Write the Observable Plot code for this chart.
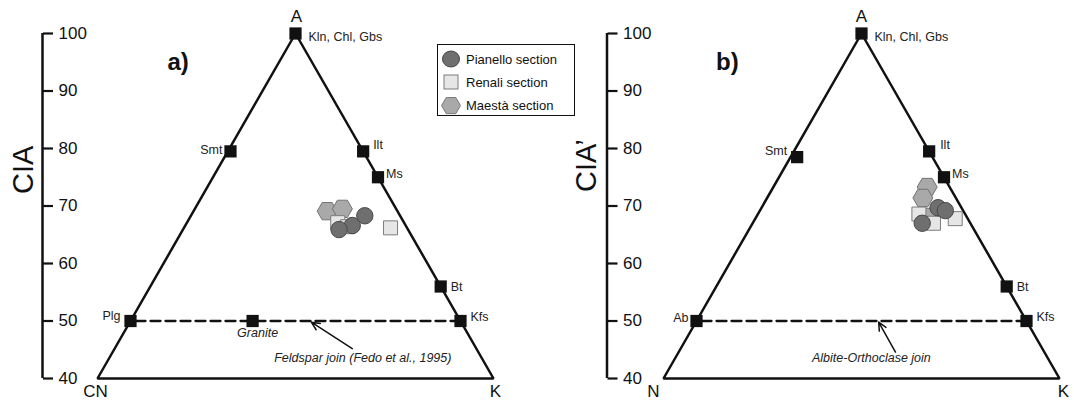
<!DOCTYPE html>
<html>
<head>
<meta charset="utf-8">
<script src="https://cdn.jsdelivr.net/npm/d3@7"></script>
<script src="https://cdn.jsdelivr.net/npm/@observablehq/plot@0.6"></script>
<style>
  html, body { margin: 0; padding: 0; background: #fff; }
  #wrap { position: relative; width: 1074px; height: 407px; overflow: hidden; font-family: "Liberation Sans", Arial, sans-serif; }
  .panel { position: absolute; top: 0; }
  .panel svg { overflow: visible; }
  #legend { position: absolute; left: 437px; top: 44px; width: 138px; height: 72px; border: 1.5px solid #111; background: #fff; box-sizing: border-box; }
  #legend .row { position: absolute; left: 0; height: 20px; display: flex; align-items: center; font-size: 13px; color: #111; }
  #legend svg { display: block; margin-left: 3px; margin-right: 5px; }
</style>
</head>
<body>
<div id="wrap"></div>
<script>
// ---------- data ----------
const yTicks = [40, 50, 60, 70, 80, 90, 100];
const seriesNames = ["Pianello section", "Renali section", "Maestà section"];
const panelLetters = ["a)", "b)"];
const yLabels = ["CIA", "CIA\u2019"];

// triangle vertices (CIA = A %, K %)
const vertexNamesA = ["A", "CN", "K"];
const vertexNamesB = ["A", "N", "K"];
const vertexCIA = [100, 40, 40];
const vertexK = [0, 0, 60];

// reference minerals, panel a
const mineralNamesA = ["Kln, Chl, Gbs", "Smt", "Ilt", "Ms", "Bt", "Kfs", "Plg", "Granite"];
const mineralCIA_A = [100, 79.5, 79.5, 75, 56, 50, 50, 50];
const mineralK_A = [0, 0.4, 20.5, 25, 44, 50, 0, 18.5];
// reference minerals, panel b
const mineralNamesB = ["Kln, Chl, Gbs", "Smt", "Ilt", "Ms", "Bt", "Kfs", "Ab"];
const mineralCIA_B = [100, 78.5, 79.5, 75, 56, 50, 50];
const mineralK_B = [0, 1, 20.5, 25, 44, 50, 0];

// samples, panel a
const pianelloCIA_A = [68.3, 66.6, 65.9];
const pianelloK_A = [26.35, 25.3, 23.65];
const renaliCIA_A = [66.2, 67.1, 66.4];
const renaliK_A = [31.3, 22.85, 24.7];
const maestaCIA_A = [69.1, 69.5];
const maestaK_A = [20.25, 22.35];
// samples, panel b
const pianelloCIA_B = [69.7, 69.2, 67.0];
const pianelloK_B = [26.75, 28.1, 25.7];
const renaliCIA_B = [68.6, 67.0, 67.8];
const renaliK_B = [24.4, 27.4, 30.3];
const maestaCIA_B = [73.3, 71.4, 68.1];
const maestaK_B = [23.3, 23.6, 26.4];

// join annotations
const joinEnds = ["Plg", "Kfs"];
const joinEndsB = ["Ab", "Kfs"];
const joinLabels = ["Feldspar join (Fedo et al., 1995)", "Albite-Orthoclase join"];
const joinLabelCIA = [43.5, 43.5];
const joinLabelK = [38.45, 29.75];
const arrowTailCIA = [45.2, 44.6];
const arrowTailK = [36.0, 32.85];
const arrowTipCIA = [49.8, 49.8];
const arrowTipK = [27.5, 27.7];

// ---------- styles ----------
const INK = "#111";
const FONT = "'Liberation Sans', Arial, sans-serif";
const labelStyleA = {
  "Kln, Chl, Gbs": {textAnchor: "start", dx: 13, dy: 3},
  "Smt": {textAnchor: "end", dx: -8, dy: -1},
  "Ilt": {textAnchor: "start", dx: 10, dy: -6},
  "Ms": {textAnchor: "start", dx: 8, dy: -3},
  "Bt": {textAnchor: "start", dx: 10, dy: 0},
  "Kfs": {textAnchor: "start", dx: 10, dy: -4},
  "Plg": {textAnchor: "end", dx: -10, dy: -5},
  "Granite": {textAnchor: "middle", dx: 5, dy: 12, fontStyle: "italic"}
};
const labelStyleB = {
  "Kln, Chl, Gbs": {textAnchor: "start", dx: 13, dy: 3},
  "Smt": {textAnchor: "end", dx: -10, dy: -6},
  "Ilt": {textAnchor: "start", dx: 11, dy: -6},
  "Ms": {textAnchor: "start", dx: 8, dy: -3},
  "Bt": {textAnchor: "start", dx: 10, dy: 0},
  "Kfs": {textAnchor: "start", dx: 10, dy: -4},
  "Ab": {textAnchor: "end", dx: -8, dy: -3}
};
const vertexStyleA = [{dx: 1, dy: -17}, {dx: -2, dy: 13}, {dx: 2, dy: 13}];
const vertexStyleB = [{dx: 0, dy: -17}, {dx: -10, dy: 13}, {dx: 4, dy: 13}];

const styleP = {symbol: "circle", r: 8.2, fill: "#6f6f6f", stroke: "#474747", strokeWidth: 1};
const styleR = {symbol: "square", r: 7.9, fill: "#e6e6e6", stroke: "#7c7c7c", strokeWidth: 1};
const hexFlat = {
  draw(ctx, size) {
    const R = Math.sqrt(size / Math.PI), h = R * Math.sqrt(3) / 2;
    ctx.moveTo(R, 0); ctx.lineTo(R / 2, h); ctx.lineTo(-R / 2, h);
    ctx.lineTo(-R, 0); ctx.lineTo(-R / 2, -h); ctx.lineTo(R / 2, -h); ctx.closePath();
  }
};
const styleM = {symbol: hexFlat, r: 10, fill: "#a9a9a9", stroke: "#737373", strokeWidth: 1};

// horizontal ternary coordinate
const tx = (d) => d.K + d.CIA / 2;
const rows = (names, cia, k) => cia.map((c, i) => ({name: names ? names[i] : i, CIA: c, K: k[i]}));

function makePanel(cfg) {
  const ML = 97, MR = cfg.width - 493;
  const verts = rows(cfg.vertexNames, vertexCIA, vertexK);
  const outline = [verts[0], verts[1], verts[2], verts[0]];
  const minerals = rows(cfg.mNames, cfg.mCIA, cfg.mK);
  const join = minerals.filter((m) => cfg.joinEnds.includes(m.name));
  const samplesP = rows(null, cfg.pCIA, cfg.pK);
  const samplesR = rows(null, cfg.rCIA, cfg.rK);
  const samplesM = rows(null, cfg.mmCIA, cfg.mmK);
  const i = cfg.idx;
  const arrow = [{x1: arrowTailK[i] + arrowTailCIA[i] / 2, y1: arrowTailCIA[i], x2: arrowTipK[i] + arrowTipCIA[i] / 2, y2: arrowTipCIA[i]}];
  const jl = [{name: joinLabels[i], CIA: joinLabelCIA[i], K: joinLabelK[i]}];

  const marks = [
    // y axis line + ticks
    Plot.ruleX([0], {x: null, y1: yTicks[0], y2: yTicks[yTicks.length - 1], dx: cfg.axisX - (ML + 493) / 2, stroke: INK, strokeWidth: 2.5}),
    Plot.axisY({anchor: "right", ticks: yTicks, tickSize: 10, tickPadding: 6, dx: cfg.axisX - 493,
      fontSize: 17, stroke: INK, fill: INK, strokeWidth: 2.2, label: null, tickFormat: (d) => String(d)}),
    Plot.text([yLabels[i]], {frameAnchor: "left", text: (d) => d, rotate: -90, dx: cfg.labelX - ML, dy: cfg.labelDy, fontSize: 29, fill: INK}),
    Plot.text([panelLetters[i]], {frameAnchor: "top-left", text: (d) => d, dx: cfg.letterX - ML, dy: 19, fontSize: 24, fontWeight: "bold", fill: INK}),
    // triangle
    Plot.line(outline, {x: tx, y: "CIA", stroke: INK, strokeWidth: 2.5, strokeLinejoin: "miter"}),
    // join
    Plot.line(join, {x: tx, y: "CIA", stroke: INK, strokeWidth: 2.3, strokeDasharray: "10,5"}),
    Plot.arrow(arrow, {x1: "x1", y1: "y1", x2: "x2", y2: "y2", stroke: INK, strokeWidth: 1.5, headLength: 9, headAngle: 50}),
    Plot.text(jl, {x: tx, y: "CIA", text: "name", fontStyle: "italic", fontSize: 12.5, fill: "#222"}),
    // samples
    Plot.dot(samplesM, {x: tx, y: "CIA", ...styleM}),
    Plot.dot(samplesR, {x: tx, y: "CIA", ...styleR}),
    Plot.dot(samplesP, {x: tx, y: "CIA", ...styleP}),
    // minerals
    Plot.dot(minerals, {x: tx, y: "CIA", symbol: "square", r: 6.9, fill: INK}),
    ...minerals.map((m) => Plot.text([m], {x: tx, y: "CIA", text: "name", fontSize: 12.5, fill: "#222", ...cfg.labelStyle[m.name]})),
    // vertices
    ...verts.map((v, j) => Plot.text([v], {x: tx, y: "CIA", text: "name", fontSize: 17, fill: INK, ...cfg.vertexStyle[j]}))
  ];

  return Plot.plot({
    width: cfg.width, height: 407,
    marginLeft: ML, marginRight: MR, marginTop: 33, marginBottom: 29,
    x: {domain: [20, 80], axis: null},
    y: {domain: [40, 100]},
    style: {background: "none", fontFamily: FONT, color: INK, overflow: "visible"},
    marks
  });
}

const wrap = document.getElementById("wrap");

const panelA = makePanel({
  idx: 0, width: 600, axisX: 42, labelX: 23, labelDy: -12, letterX: 167,
  vertexNames: vertexNamesA, vertexStyle: vertexStyleA,
  mNames: mineralNamesA, mCIA: mineralCIA_A, mK: mineralK_A, labelStyle: labelStyleA, joinEnds: joinEnds,
  pCIA: pianelloCIA_A, pK: pianelloK_A, rCIA: renaliCIA_A, rK: renaliK_A, mmCIA: maestaCIA_A, mmK: maestaK_A
});
const panelB = makePanel({
  idx: 1, width: 508, axisX: 40.5, labelX: 20, labelDy: -14, letterX: 149.5,
  vertexNames: vertexNamesB, vertexStyle: vertexStyleB,
  mNames: mineralNamesB, mCIA: mineralCIA_B, mK: mineralK_B, labelStyle: labelStyleB, joinEnds: joinEndsB,
  pCIA: pianelloCIA_B, pK: pianelloK_B, rCIA: renaliCIA_B, rK: renaliK_B, mmCIA: maestaCIA_B, mmK: maestaK_B
});

const divB = document.createElement("div");
divB.className = "panel"; divB.style.left = "566px"; divB.appendChild(panelB);
const divA = document.createElement("div");
divA.className = "panel"; divA.style.left = "0px"; divA.appendChild(panelA);
wrap.appendChild(divB);
wrap.appendChild(divA);

// legend
const legend = document.createElement("div");
legend.id = "legend";
const icons = [
  `<svg width="20" height="18"><ellipse cx="10" cy="9" rx="8.5" ry="8" fill="${styleP.fill}" stroke="${styleP.stroke}"/></svg>`,
  `<svg width="20" height="18"><rect x="3" y="2" width="14" height="14" fill="${styleR.fill}" stroke="${styleR.stroke}"/></svg>`,
  `<svg width="20" height="18"><polygon points="20,9 15,17.5 5,17.5 0,9 5,0.5 15,0.5" transform="translate(0.5,0) scale(0.95)" fill="${styleM.fill}" stroke="${styleM.stroke}"/></svg>`
];
seriesNames.forEach((name, i) => {
  const row = document.createElement("div");
  row.className = "row";
  row.style.top = (4 + i * 23.3) + "px";
  row.innerHTML = icons[i] + `<span>${name}</span>`;
  legend.appendChild(row);
});
wrap.appendChild(legend);
</script>
</body>
</html>
